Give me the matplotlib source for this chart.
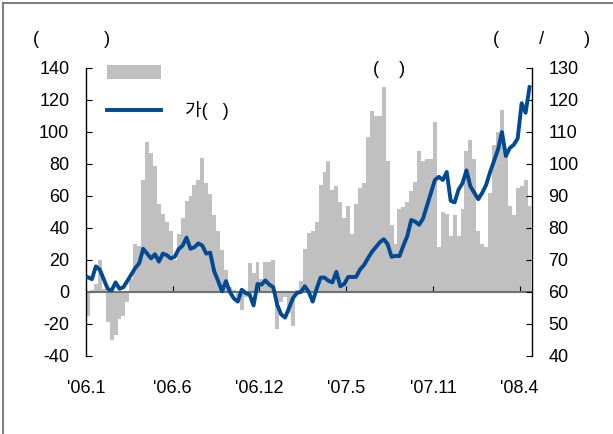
# weekly bars (left axis) with index line (right axis)

import matplotlib
matplotlib.use('Agg')
import numpy as np
from matplotlib import pyplot as plt
from matplotlib.lines import Line2D

plt.rcParams['font.family'] = ['Liberation Sans', 'Noto Sans CJK KR', 'DejaVu Sans']
plt.rcParams['font.size'] = 13
plt.rcParams['axes.unicode_minus'] = False

bar_vals = [-15, 1, 5, 20, 2, -19, -30, -27, -17, -15,
            -6, 8, 30, 29, 70, 94, 87, 79, 55, 49,
            44, 38, 20, 36, 46, 57, 60, 67, 70, 84,
            68, 61, 48, 38, 26, 14, 3, 1, -3, -11,
            -3, 18, 12, 19, 8, 19, 19, 20, -23, -6,
            -3, -13, -21, 1, 7, 27, 37, 38, 44, 67,
            75, 82, 64, 66, 56, 46, 54, 36, 55, 65,
            68, 97, 113, 110, 110, 128, 82, 42, 30, 52,
            53, 56, 63, 69, 88, 82, 83, 83, 106, 28,
            50, 49, 35, 48, 35, 52, 88, 95, 83, 38,
            30, 28, 62, 92, 100, 114, 85, 54, 48, 65,
            66, 70, 54]

line_vals = [64.6, 64, 68, 67, 64, 61, 60.5, 63, 61, 61.5,
             63.5, 65.5, 67.5, 69, 73.5, 72, 70.5, 71.8, 69.5, 72,
             71.5, 70.5, 71, 73.4, 74.5, 77, 73.5, 74, 75.2, 74.5,
             72, 72.3, 66.5, 63.5, 60.2, 63.4, 60, 58, 57, 60.7,
             59.7, 59.2, 55.8, 62.5, 62.3, 63.6, 62.3, 61.5, 56, 53,
             52, 55, 58.1, 59.7, 60, 61.8, 60, 57, 61, 64.5,
             64.5, 63.5, 63, 66.3, 61.8, 62.5, 64.7, 64.7, 64.7, 67,
             68.4, 70.5, 72.5, 74, 75.5, 76.5, 75, 71, 71.3, 71.2,
             74.5, 77.5, 82.5, 82, 81, 83, 87, 91, 95, 96,
             95, 97.5, 88.5, 88, 92, 94, 98, 93, 91, 89,
             91, 93.5, 97.5, 101, 104.5, 110, 102.5, 105, 106, 108,
             119, 116, 124]

tick_pos = [0, 22, 44, 66, 88, 110]
tick_labels = ["'06.1", "'06.6", "'06.12", "'07.5", "'07.11", "'08.4"]

x = np.arange(len(bar_vals)) + 0.5

fig = plt.figure(figsize=(6.13, 4.34), dpi=100)
ax = fig.add_axes([86/613, 1-356/434, 445.5/613, 288/434])
ax2 = ax.twinx()

bars = ax.bar(x, bar_vals, width=1.0, color='#c0c0c0', linewidth=0, zorder=1)
ax.axhline(0, color='#707070', lw=1.5, zorder=2)
line, = ax2.plot(x, line_vals, color='#004a93', lw=2.8, solid_joinstyle='round')

ax.set_xlim(0, len(bar_vals))
ax.set_ylim(-40, 140)
ax.set_yticks(range(-40, 141, 20))
ax2.set_ylim(40, 130)
ax2.set_yticks(range(40, 131, 10))

ax.set_xticks(tick_pos)
ax.set_xticklabels(tick_labels)

for s in ['top', 'right', 'bottom']:
    ax.spines[s].set_visible(False)
for s in ['top', 'left', 'bottom']:
    ax2.spines[s].set_visible(False)
ax.spines['left'].set_linewidth(1)
ax2.spines['right'].set_linewidth(1)

ax.tick_params(axis='y', direction='in', length=4, pad=12)
ax2.tick_params(axis='y', direction='in', length=4, pad=12)
ax.tick_params(axis='x', direction='in', length=4, pad=0)
# x ticks sit on the zero line, labels go under the plot
for t in ax.xaxis.get_major_ticks():
    t.tick1line.set_transform(ax.get_xaxis_transform() + matplotlib.transforms.ScaledTranslation(0, 40/180*288/100, fig.dpi_scale_trans))
    t.label1.set_y(-0.085)

leg = ax.legend([bars, line], [' ', '가(   )'], loc='upper left',
                bbox_to_anchor=(98/613, 1-56/434), bbox_transform=fig.transFigure,
                frameon=False, borderpad=0, handlelength=3, handleheight=0.8,
                handletextpad=1.3, labelspacing=1.05)

fig.text(33/613, 1-40/434, '(             )', va='center')
fig.text(493/613, 1-40/434, '(        /        )', va='center')
fig.text(373/613, 1-70/434, '(    )', va='center')

fig.add_artist(Line2D([3/613, 3/613], [0, 1-3/434], color='#808080', lw=1.5, transform=fig.transFigure))
fig.add_artist(Line2D([3/613, 1], [1-3/434, 1-3/434], color='#808080', lw=1.5, transform=fig.transFigure))

fig.savefig('out.png', dpi=100)
